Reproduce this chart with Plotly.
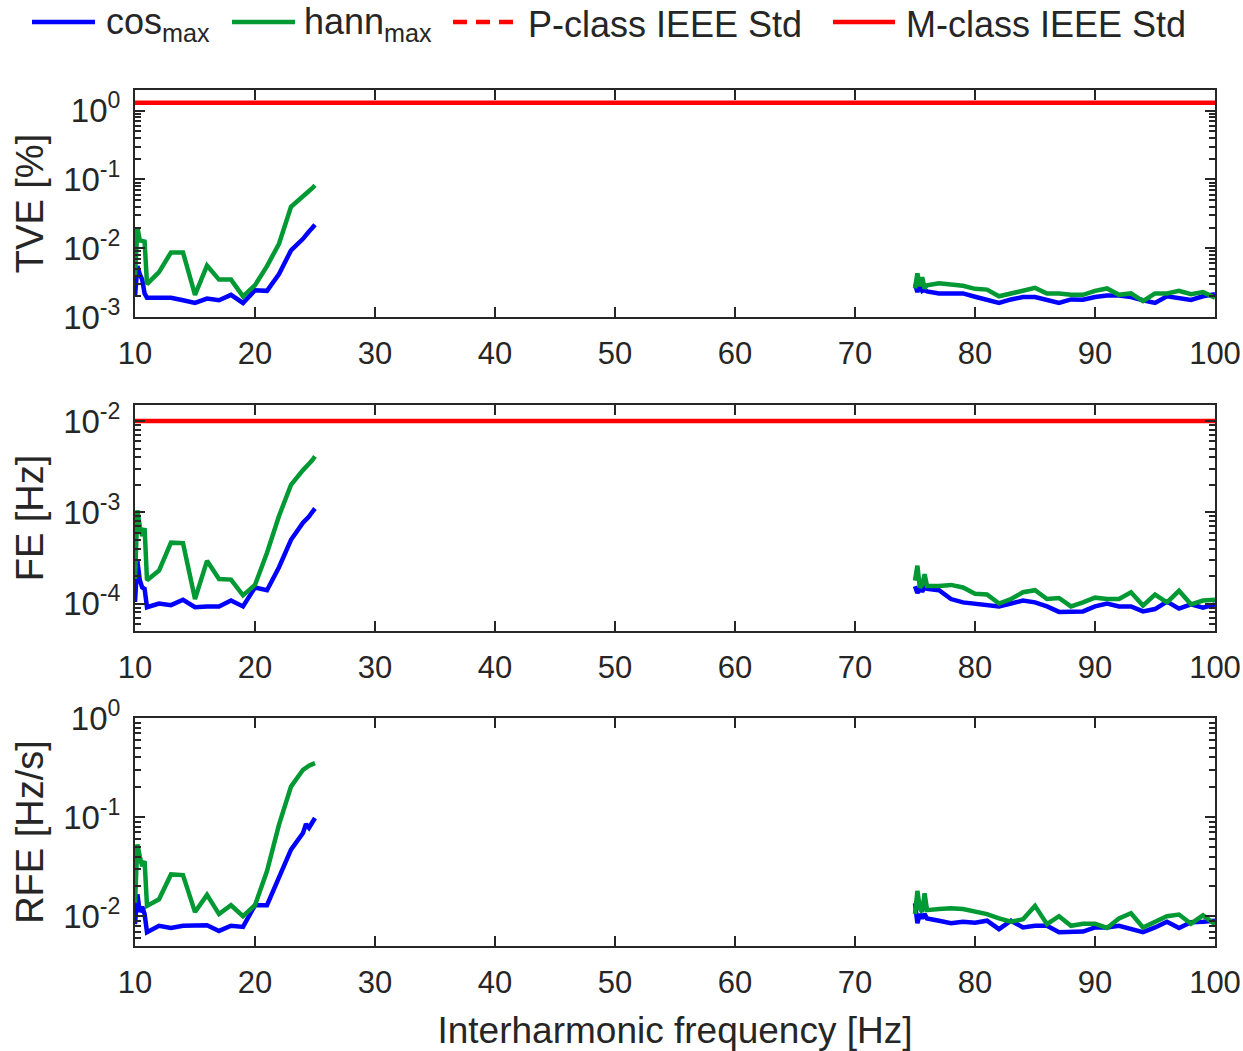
import plotly.graph_objects as go

# ---------------- data ----------------
freq_low = [10, 10.2, 10.4, 10.6, 10.8, 11, 12, 13, 14, 15, 16, 17, 18, 19, 20, 21, 22, 23, 24, 24.25, 24.5, 24.75, 25]
freq_high = [75, 75.2, 75.4, 75.6, 75.8, 76, 77, 78, 79, 80, 81, 82, 83, 84, 85, 86, 87, 88, 89, 90,
             91, 92, 93, 94, 95, 96, 97, 98, 99, 100]

tve_cos_low = [2.0e-3, 5.5e-3, 4.2e-3, 3.5e-3, 2.2e-3, 1.9e-3, 1.9e-3, 1.9e-3, 1.75e-3, 1.6e-3, 1.85e-3, 1.75e-3,
               2.1e-3, 1.6e-3, 2.45e-3, 2.4e-3, 4.2e-3, 9.3e-3, 0.0137, 0.016, 0.0175, 0.0195, 0.022]
tve_hann_low = [3.8e-3, 0.020, 0.013, 0.0125, 0.0125, 3.0e-3, 4.5e-3, 8.7e-3, 8.7e-3, 2.1e-3, 5.6e-3, 3.5e-3,
                3.5e-3, 2.0e-3, 2.9e-3, 5.5e-3, 0.0116, 0.040, 0.059, 0.064, 0.068, 0.074, 0.082]
tve_cos_high = [3.0e-3, 2.3e-3, 2.9e-3, 2.4e-3, 2.5e-3, 2.35e-3, 2.2e-3, 2.2e-3, 2.2e-3, 1.97e-3, 1.77e-3, 1.6e-3,
                1.8e-3, 1.95e-3, 1.95e-3, 1.77e-3, 1.6e-3, 1.8e-3, 1.78e-3, 1.95e-3, 2.05e-3, 2.05e-3, 1.95e-3,
                1.75e-3, 1.6e-3, 2.0e-3, 1.88e-3, 1.77e-3, 2.0e-3, 2.15e-3]
tve_hann_high = [2.6e-3, 4.3e-3, 2.8e-3, 3.8e-3, 2.6e-3, 2.9e-3, 3.1e-3, 2.95e-3, 2.85e-3, 2.57e-3, 2.5e-3, 2.0e-3,
                 2.2e-3, 2.4e-3, 2.65e-3, 2.2e-3, 2.2e-3, 2.1e-3, 2.1e-3, 2.4e-3, 2.6e-3, 2.1e-3, 2.2e-3, 1.7e-3,
                 2.2e-3, 2.2e-3, 2.4e-3, 2.15e-3, 2.3e-3, 1.9e-3]

fe_cos_low = [1.04e-4, 2.9e-4, 1.8e-4, 1.5e-4, 1.45e-4, 9.1e-5, 1.0e-4, 9.6e-5, 1.1e-4, 9.1e-5, 9.3e-5, 9.3e-5,
              1.08e-4, 9.3e-5, 1.5e-4, 1.4e-4, 2.5e-4, 5.0e-4, 7.7e-4, 8.2e-4, 9.0e-4, 1.0e-3, 1.1e-3]
fe_hann_low = [1.86e-4, 1.05e-3, 7.0e-4, 5.5e-4, 6.7e-4, 1.8e-4, 2.3e-4, 4.65e-4, 4.6e-4, 1.12e-4, 2.94e-4, 1.86e-4,
               1.83e-4, 1.23e-4, 1.6e-4, 3.6e-4, 9.1e-4, 2.0e-3, 2.9e-3, 3.1e-3, 3.4e-3, 3.7e-3, 4.1e-3]
fe_cos_high = [1.55e-4, 1.3e-4, 1.5e-4, 1.35e-4, 1.5e-4, 1.45e-4, 1.4e-4, 1.12e-4, 1.03e-4, 1.0e-4, 9.8e-5, 9.3e-5,
               1.0e-4, 1.08e-4, 1.03e-4, 9.3e-5, 8.1e-5, 8.2e-5, 8.2e-5, 9.3e-5, 1.0e-4, 9.3e-5, 9.3e-5, 8.2e-5,
               8.7e-5, 1.05e-4, 8.8e-5, 9.8e-5, 9.0e-5, 9.8e-5]
fe_hann_high = [1.78e-4, 2.6e-4, 1.5e-4, 1.6e-4, 2.1e-4, 1.56e-4, 1.56e-4, 1.6e-4, 1.5e-4, 1.28e-4, 1.26e-4, 1.0e-4,
                1.12e-4, 1.33e-4, 1.4e-4, 1.12e-4, 1.15e-4, 9.3e-5, 1.03e-4, 1.16e-4, 1.12e-4, 1.12e-4, 1.33e-4,
                9.5e-5, 1.25e-4, 1.03e-4, 1.38e-4, 9.8e-5, 1.08e-4, 1.1e-4]

rfe_cos_low = [8.3e-3, 0.0166, 0.011, 0.0125, 0.0105, 6.9e-3, 8.0e-3, 7.6e-3, 8.0e-3, 8.1e-3, 8.1e-3, 7.1e-3,
               8.0e-3, 7.8e-3, 0.0129, 0.0129, 0.0254, 0.047, 0.069, 0.085, 0.078, 0.09, 0.098]
rfe_hann_low = [0.0137, 0.053, 0.040, 0.032, 0.036, 0.0127, 0.0148, 0.0264, 0.026, 0.011, 0.0164, 0.0105,
                0.0129, 0.010, 0.0129, 0.0285, 0.084, 0.203, 0.30, 0.32, 0.33, 0.34, 0.35]
rfe_cos_high = [0.0135, 0.0085, 0.0105, 0.0095, 0.0105, 0.0095, 0.0090, 0.0085, 0.0088, 0.0086, 0.0090, 0.0074,
                9.0e-3, 7.7e-3, 8.0e-3, 8.0e-3, 6.9e-3, 6.9e-3, 7.0e-3, 7.7e-3, 7.7e-3, 8.0e-3, 7.4e-3, 6.9e-3,
                7.7e-3, 8.8e-3, 7.6e-3, 8.7e-3, 8.8e-3, 9.0e-3]
rfe_hann_high = [0.0105, 0.018, 0.012, 0.011, 0.017, 0.0115, 0.0118, 0.012, 0.0118, 0.011, 0.0105, 0.0095,
                 8.8e-3, 9.3e-3, 0.0127, 8.3e-3, 0.0100, 8.0e-3, 8.4e-3, 8.4e-3, 7.6e-3, 9.5e-3, 0.0107, 7.7e-3,
                 8.8e-3, 0.010, 0.0104, 8.4e-3, 0.0102, 8.3e-3]

tve_limit_m = 1.3
fe_limit_m = 0.01
limit_x = [10, 100]

x_ticks = [10, 20, 30, 40, 50, 60, 70, 80, 90, 100]

legend_names = ["cos<sub>max</sub>", "hann<sub>max</sub>", "P-class IEEE Std", "M-class IEEE Std"]

# ---------------- style ----------------
BLUE = "#0000FF"
GREEN = "#009933"
RED = "#FF0000"
TXT = "#262626"
FONT = "Liberation Sans, Arial, sans-serif"
LW = 4.5

W, H = 1243, 1051
ML, MR, MT, MB = 135, 28, 90, 105
PW, PH = W - ML - MR, H - MT - MB


def px_x(p):
    return (p - ML) / PW


def px_y(p):
    return 1 - (p - MT) / PH


fig = go.Figure()

x_all = freq_low + [None] + freq_high


def join(a, b):
    return a + [None] + b


panels = [
    ("y", join(tve_cos_low, tve_cos_high), join(tve_hann_low, tve_hann_high), tve_limit_m),
    ("y2", join(fe_cos_low, fe_cos_high), join(fe_hann_low, fe_hann_high), fe_limit_m),
    ("y3", join(rfe_cos_low, rfe_cos_high), join(rfe_hann_low, rfe_hann_high), None),
]
xaxes = ["x", "x2", "x3"]

for i, (ya, cos_v, hann_v, lim) in enumerate(panels):
    xa = xaxes[i]
    if lim is not None:
        fig.add_trace(go.Scatter(x=limit_x, y=[lim, lim], mode="lines", line=dict(color=RED, width=LW),
                                 name=legend_names[3], showlegend=False, xaxis=xa, yaxis=ya))
    fig.add_trace(go.Scatter(x=x_all, y=cos_v, mode="lines", line=dict(color=BLUE, width=LW),
                             name=legend_names[0], showlegend=False,
                             connectgaps=False, xaxis=xa, yaxis=ya))
    fig.add_trace(go.Scatter(x=x_all, y=hann_v, mode="lines", line=dict(color=GREEN, width=LW),
                             name=legend_names[1], showlegend=False,
                             connectgaps=False, xaxis=xa, yaxis=ya))

# ----- custom legend (long line samples as in the reference) -----
legend_items = [
    (32, 95, 104, BLUE, "solid", legend_names[0]),
    (232, 295, 302, GREEN, "solid", legend_names[1]),
    (453, 517, 526, RED, "14px,9px", legend_names[2]),
    (833, 895, 904, RED, "solid", legend_names[3]),
]
leg_y = 22
shapes = []
annotations = []
for x0, x1, xt, col, dash, txt in legend_items:
    shapes.append(dict(type="line", xref="paper", yref="paper", x0=px_x(x0), x1=px_x(x1),
                       y0=px_y(leg_y), y1=px_y(leg_y), line=dict(color=col, width=LW, dash=dash)))
    annotations.append(dict(xref="paper", yref="paper", x=px_x(xt), y=px_y(leg_y + 2), text=txt,
                            showarrow=False, xanchor="left", yanchor="middle",
                            font=dict(size=36, color=TXT, family=FONT)))


def minor_vals(lo_exp, hi_exp):
    vals = []
    for e in range(lo_exp, hi_exp + 1):
        for m in range(2, 10):
            vals.append(m * 10 ** e)
    return vals


def sup_label(e):
    return "10<sup>%d</sup>" % e


axis_common = dict(showline=True, linecolor=TXT, linewidth=2, mirror="ticks", ticks="inside",
                   ticklen=10, tickwidth=2, tickcolor=TXT, showgrid=False, zeroline=False,
                   automargin=False)

domains = [[px_y(317), px_y(90)], [px_y(631), px_y(405)], [px_y(946), px_y(718)]]
yranges = [[-3, 0.301], [-4.301, -1.824], [-2.301, 0]]
ymajor = [[-3, -2, -1, 0], [-4, -3, -2], [-2, -1, 0]]
yminor = [minor_vals(-3, 0), minor_vals(-5, -2), minor_vals(-3, -1)]
ytitles = ["TVE [%]", "FE [Hz]", "RFE [Hz/s]"]

for i in range(3):
    sfx = "" if i == 0 else str(i + 1)
    fig.layout["xaxis" + sfx] = go.layout.XAxis(
        domain=[0, 1], range=[10, 100], anchor="y" + sfx,
        tickvals=x_ticks, ticktext=[str(v) for v in x_ticks],
        tickfont=dict(size=31, color=TXT, family=FONT), ticklabelstandoff=8, **axis_common)
    fig.layout["yaxis" + sfx] = go.layout.YAxis(
        domain=domains[i], type="log", range=yranges[i], anchor="x" + sfx,
        tickvals=[10 ** e for e in ymajor[i]], ticktext=[sup_label(e) for e in ymajor[i]],
        tickfont=dict(size=33, color=TXT, family=FONT), ticklabelstandoff=6,
        minor=dict(tickvals=yminor[i], ticks="inside", ticklen=6, tickwidth=2, tickcolor=TXT, showgrid=False),
        title=dict(text=ytitles[i], font=dict(size=38, color=TXT, family=FONT), standoff=8),
        **axis_common)

fig.layout.xaxis3.title = dict(text="Interharmonic frequency [Hz]", font=dict(size=37, color=TXT, family=FONT),
                               standoff=20)

fig.update_layout(
    width=W, height=H,
    margin=dict(l=ML, r=MR, t=MT, b=MB, autoexpand=False),
    paper_bgcolor="white", plot_bgcolor="white",
    font=dict(family=FONT, color=TXT),
    showlegend=False,
    shapes=shapes,
    annotations=annotations,
)

fig.write_html("out.html")
